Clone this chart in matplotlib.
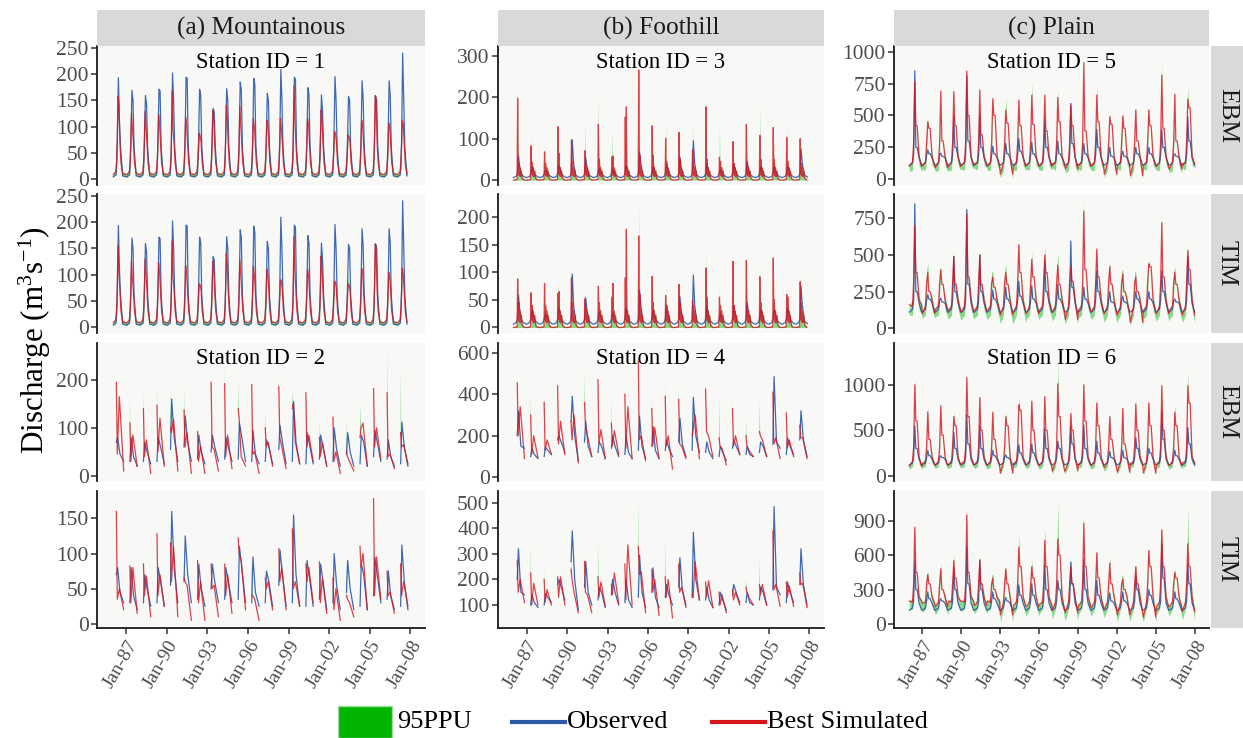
import numpy as np
import matplotlib
matplotlib.use("Agg")
import matplotlib.pyplot as plt
from matplotlib.patches import Rectangle
from matplotlib.lines import Line2D

plt.rcParams['font.family'] = ['Liberation Serif', 'DejaVu Serif']
plt.rcParams['mathtext.fontset'] = 'custom'
plt.rcParams['mathtext.rm'] = 'Liberation Serif'
plt.rcParams['mathtext.it'] = 'Liberation Serif:italic'

# ---------------------------------------------------------------- data
YEARS = list(range(1986, 2008))
XTICKS = [1987, 1990, 1993, 1996, 1999, 2002, 2005, 2008]
XTICK_LABELS = ["Jan-87", "Jan-90", "Jan-93", "Jan-96", "Jan-99", "Jan-02", "Jan-05", "Jan-08"]
COLUMN_TITLES = ["(a) Mountainous", "(b) Foothill", "(c) Plain"]
ROW_MODELS = ["EBM", "TIM", "EBM", "TIM"]

# Station 1 (mountainous, continuous record): yearly flood peak and shoulder
s1_obs_pk = [193, 169, 159, 171, 202, 194, 171, 134, 172, 185, 192, 163, 209, 194, 174, 160, 195, 157, 187, 158, 187, 240]
s1_obs_sh = [110, 150, 143, 168, 150, 192, 160, 128, 150, 170, 180, 150, 150, 190, 160, 130, 150, 150, 155, 150, 160, 150]
s1e_sim_pk = [157, 125, 129, 122, 168, 117, 87, 131, 140, 139, 115, 112, 115, 177, 115, 131, 90, 83, 112, 159, 106, 112]
s1e_sim_sh = [140, 95, 100, 105, 90, 100, 82, 115, 120, 100, 100, 105, 95, 110, 105, 115, 85, 80, 100, 150, 100, 105]
s1e_ppu_pk = [165, 132, 136, 130, 172, 124, 98, 136, 146, 145, 122, 118, 122, 182, 122, 136, 96, 100, 118, 162, 112, 118]
s1t_sim_pk = [155, 126, 130, 122, 164, 117, 82, 125, 140, 128, 116, 110, 90, 173, 110, 135, 87, 82, 111, 158, 104, 112]
s1t_sim_sh = [100, 90, 100, 105, 95, 100, 80, 110, 120, 100, 100, 100, 88, 105, 100, 110, 85, 80, 105, 150, 95, 100]
s1t_ppu_pk = [160, 132, 136, 128, 168, 124, 90, 130, 146, 134, 122, 116, 98, 178, 116, 140, 94, 96, 116, 162, 110, 118]

# Station 3 (foothill): observed bump, simulated spikes
s3_obs_pk = [59, 32, 24, 35, 97, 54, 28, 26, 35, 68, 32, 40, 56, 95, 40, 25, 40, 45, 32, 32, 35, 75]
s3_obs_post = [30, 20, 20, 25, 40, 30, 20, 18, 25, 40, 22, 25, 30, 40, 25, 18, 25, 25, 22, 22, 25, 40]
s3e_sim_pk = [198, 83, 68, 129, 97, 71, 135, 56, 152, 266, 131, 101, 115, 73, 177, 55, 93, 135, 108, 127, 103, 100]
s3e_sim_sec = [40, 42, 40, 65, 45, 35, 50, 58, 177, 60, 60, 45, 50, 50, 50, 45, 40, 40, 50, 50, 45, 40]
s3e_ppu_pk = [205, 105, 88, 142, 100, 140, 200, 115, 160, 275, 145, 133, 135, 135, 180, 128, 95, 140, 183, 130, 132, 105]
s3t_sim_pk = [88, 63, 80, 62, 90, 52, 75, 55, 90, 166, 93, 58, 78, 50, 108, 55, 120, 122, 92, 126, 60, 83]
s3t_sim_sec = [45, 40, 40, 65, 45, 35, 45, 80, 178, 60, 45, 40, 45, 40, 55, 40, 40, 40, 45, 50, 55, 45]
s3t_ppu_pk = [105, 70, 85, 85, 95, 60, 80, 60, 95, 225, 95, 78, 85, 55, 135, 70, 122, 128, 113, 130, 80, 95]

# Station 5 (plain)
s5_obs_pk = [850, 230, 205, 490, 810, 500, 260, 280, 320, 290, 465, 300, 595, 280, 392, 250, 220, 250, 250, 390, 200, 490]
s5_obs_post = [250, 200, 180, 250, 300, 250, 200, 200, 220, 200, 250, 200, 280, 200, 250, 180, 180, 200, 200, 250, 180, 300]
s5e_sim_pk = [765, 452, 692, 687, 849, 700, 632, 543, 621, 660, 660, 642, 582, 914, 660, 490, 496, 543, 543, 817, 666, 630]
s5e_sim_post = [420, 400, 300, 420, 500, 350, 500, 440, 420, 430, 380, 450, 420, 380, 450, 430, 400, 300, 420, 400, 300, 560]
s5e_sim_low = [100, 110, 90, 100, 110, 120, 100, 40, 100, 110, 100, 120, 80, 110, 100, 40, 110, 30, 110, 100, 80, 120]
s5e_ppu_pk = [780, 470, 700, 700, 860, 720, 650, 640, 640, 760, 680, 700, 600, 940, 740, 520, 520, 560, 560, 900, 700, 720]
s5e_ppu_low = [60, 80, 60, 70, 80, 90, 70, 10, 70, 80, 70, 90, 50, 80, 70, 15, 80, 5, 80, 70, 50, 90]
s5t_sim_pk = [700, 380, 400, 490, 780, 500, 350, 380, 570, 470, 500, 430, 420, 800, 540, 420, 370, 350, 440, 720, 380, 530]
s5t_sim_post = [380, 250, 300, 300, 350, 300, 280, 300, 380, 350, 380, 300, 320, 400, 350, 300, 250, 250, 420, 350, 300, 400]
s5t_sim_low = [160, 100, 130, 120, 110, 120, 120, 90, 110, 100, 120, 110, 60, 120, 110, 100, 90, 40, 120, 100, 120, 90]
s5t_ppu_pk = [720, 450, 420, 520, 800, 530, 380, 440, 600, 520, 560, 520, 450, 860, 560, 450, 400, 380, 470, 760, 420, 570]
s5t_ppu_low = [90, 70, 80, 60, 60, 70, 60, 30, 40, 60, 70, 50, 30, 70, 60, 40, 50, 20, 60, 50, 60, 40]

# Station 6 (plain)
s6_obs_pk = [550, 280, 220, 480, 670, 550, 280, 230, 340, 350, 520, 380, 540, 560, 380, 270, 280, 420, 300, 700, 280, 530]
s6_obs_post = [300, 220, 200, 300, 350, 300, 220, 200, 250, 250, 300, 300, 350, 300, 250, 200, 200, 300, 250, 400, 220, 350]
s6e_sim_pk = [1000, 703, 770, 650, 1080, 860, 700, 650, 780, 820, 870, 1010, 680, 1000, 800, 650, 740, 790, 800, 990, 700, 990]
s6e_sim_post = [600, 400, 450, 550, 650, 500, 400, 550, 720, 500, 500, 650, 500, 600, 550, 400, 350, 500, 550, 500, 550, 800]
s6e_sim_low = [100, 130, 110, 120, 130, 120, 110, 30, 130, 120, 110, 50, 60, 120, 110, 90, 40, 130, 30, 120, 110, 140]
s6e_ppu_pk = [1080, 750, 800, 700, 1100, 900, 720, 700, 860, 850, 920, 1250, 760, 1050, 840, 680, 760, 820, 840, 1050, 780, 1130]
s6e_ppu_low = [70, 90, 80, 80, 90, 80, 70, 10, 90, 80, 70, 20, 30, 80, 70, 50, 15, 90, 10, 80, 70, 100]
s6t_sim_pk = [843, 430, 480, 552, 950, 560, 400, 480, 670, 500, 730, 740, 500, 880, 620, 530, 390, 500, 640, 820, 450, 700]
s6t_sim_post = [450, 350, 300, 400, 450, 350, 300, 350, 500, 400, 500, 600, 350, 500, 400, 350, 300, 350, 500, 500, 400, 500]
s6t_sim_low = [200, 180, 150, 200, 200, 160, 200, 80, 160, 150, 170, 120, 100, 160, 140, 130, 80, 100, 60, 150, 150, 110]
s6t_ppu_pk = [880, 460, 520, 600, 980, 600, 430, 500, 780, 560, 830, 1050, 560, 900, 650, 580, 420, 520, 680, 850, 480, 1020]
s6t_ppu_low = [120, 100, 80, 120, 110, 90, 110, 20, 80, 70, 90, 40, 30, 80, 70, 60, 20, 40, 20, 80, 70, 40]

# Station 2 (mountainous, seasonal record): per season (start, peak, mid, end) / (peak, trough, second, end)
s2_obs = [(70, 80, 45, 30), (30, 80, 40, 20), (30, 70, 50, 25), (30, 80, 60, 25), (55, 160, 80, 30),
          (60, 125, 70, 30), (35, 85, 50, 25), (50, 85, 60, 30), (35, 80, 60, 30), (35, 110, 80, 30),
          (30, 95, 45, 25), (30, 75, 60, 25), (55, 105, 70, 25), (30, 155, 70, 25), (25, 90, 65, 25),
          (35, 85, 60, 20), (30, 100, 55, 20), (45, 90, 50, 20), (25, 85, 70, 20), (40, 95, 70, 30),
          (35, 75, 40, 20), (25, 112, 60, 20)]
s2e_sim = [(195, 45, 165, 10), (110, 30, 85, 20), (140, 40, 75, 5), (147, 50, 120, 20), (100, 90, 118, 10),
           (137, 60, 90, 5), (92, 30, 62, 5), (195, 60, 55, 10), (192, 40, 85, 15), (140, 120, 40, 20),
           (190, 45, 50, 5), (100, 60, 70, 20), (186, 80, 60, 15), (140, 150, 70, 25), (173, 60, 85, 30),
           (80, 40, 70, 20), (122, 30, 50, 5), (50, 40, 30, 10), (80, 100, 110, 20), (182, 60, 100, 35),
           (173, 40, 45, 15), (90, 60, 65, 25)]
s2e_ppu_pk = [200, 165, 178, 183, 180, 190, 100, 200, 230, 195, 200, 135, 205, 175, 180, 120, 130, 120, 150, 185, 265, 225]
s2t_sim = [(160, 35, 50, 20), (82, 30, 80, 15), (85, 40, 68, 10), (128, 40, 70, 25), (115, 60, 110, 10),
           (65, 60, 55, 5), (90, 30, 60, 5), (85, 50, 55, 10), (85, 40, 70, 15), (122, 100, 90, 20),
           (40, 40, 35, 5), (65, 50, 60, 20), (107, 60, 80, 20), (135, 50, 60, 25), (85, 60, 80, 30),
           (88, 30, 65, 15), (65, 20, 50, 5), (40, 35, 30, 10), (110, 80, 100, 20), (178, 40, 95, 35),
           (75, 40, 45, 15), (85, 40, 60, 25)]
s2t_ppu_pk = [165, 88, 90, 132, 120, 95, 95, 90, 90, 125, 95, 70, 110, 140, 90, 92, 70, 90, 112, 180, 85, 90]

# Station 4 (foothill, seasonal record)
s4_obs = [(200, 320, 150, 140), (100, 140, 110, 90), (100, 145, 130, 110), (180, 200, 170, 120), (270, 390, 200, 80),
          (170, 270, 150, 100), (120, 170, 150, 90), (140, 200, 150, 100), (110, 200, 120, 90), (130, 295, 150, 90),
          (150, 245, 130, 90), (130, 180, 140, 100), (170, 285, 160, 100), (130, 385, 200, 120), (120, 170, 120, 90),
          (100, 150, 120, 80), (140, 180, 150, 110), (110, 150, 110, 100), (120, 170, 150, 100), (160, 485, 170, 140),
          (110, 190, 150, 110), (180, 320, 180, 100)]
s4e_sim = [(455, 200, 340, 90), (300, 110, 200, 95), (360, 130, 180, 110), (440, 160, 270, 110), (270, 180, 300, 70),
           (360, 250, 200, 100), (470, 160, 230, 90), (260, 150, 225, 110), (400, 140, 340, 90), (560, 180, 200, 80),
           (330, 150, 240, 90), (390, 150, 200, 40), (375, 160, 150, 90), (200, 230, 300, 90), (425, 220, 200, 100),
           (190, 150, 140, 60), (330, 150, 200, 110), (200, 150, 130, 100), (220, 200, 180, 100), (410, 160, 190, 90),
           (310, 140, 180, 100), (250, 190, 190, 90)]
s4e_ppu_pk = [470, 390, 400, 450, 300, 510, 480, 380, 410, 570, 390, 460, 440, 310, 470, 390, 370, 280, 370, 420, 350, 260]
s4t_sim = [(275, 150, 200, 110), (225, 100, 185, 100), (200, 110, 160, 100), (210, 130, 210, 100), (240, 200, 150, 70),
           (270, 150, 140, 70), (210, 130, 190, 95), (180, 140, 225, 105), (260, 120, 335, 100), (330, 220, 230, 70),
           (240, 150, 200, 60), (210, 130, 200, 50), (260, 150, 170, 90), (140, 130, 270, 120), (190, 130, 195, 90),
           (150, 100, 140, 70), (160, 120, 150, 100), (170, 150, 130, 100), (180, 140, 180, 100), (390, 160, 180, 95),
           (190, 130, 175, 95), (225, 180, 185, 90)]
s4t_ppu_pk = [340, 340, 240, 230, 280, 290, 350, 210, 265, 510, 240, 360, 290, 300, 200, 150, 190, 200, 280, 400, 190, 235]

# ---------------------------------------------------------------- series builders
PH_MTN_OBS = [0.05, 0.26, 0.35, 0.43, 0.51, 0.59, 0.74]
PH_MTN_SIM = [0.05, 0.24, 0.32, 0.40, 0.47, 0.54, 0.62, 0.75]
PH_FOOT_OBS = [0.0, 0.20, 0.29, 0.37, 0.47, 0.62, 0.85]
PH_FOOT_SIM = [0.0, 0.27, 0.31, 0.35, 0.39, 0.43, 0.47, 0.52, 0.57, 0.66, 0.80]
PH_PLAIN = [0.03, 0.27, 0.36, 0.45, 0.53, 0.63, 0.78, 0.98]
PH_SEASON_OBS = [0.28, 0.37, 0.55, 0.82]
PH_SEASON_SIM = [0.28, 0.35, 0.50, 0.82]


def series(phases, rows, gaps=False):
    t, v = [], []
    for yr, row in zip(YEARS, rows):
        for p, val in zip(phases, row):
            t.append(yr + p)
            v.append(val)
        if gaps:
            t.append(yr + 0.9)
            v.append(np.nan)
    return np.array(t), np.array(v, dtype=float)


def mountain(obs_pk, obs_sh, sim_pk, sim_sh, ppu_pk):
    obs = series(PH_MTN_OBS, [(4, 8, 70, a, b, 60, 6) for a, b in zip(obs_pk, obs_sh)])
    sim = series(PH_MTN_SIM, [(8, 14, 40, a, b, 70, 30, 10) for a, b in zip(sim_pk, sim_sh)])
    hi = series(PH_MTN_SIM, [(10, 20, 65, c, b, 78, 42, 14) for c, b in zip(ppu_pk, sim_sh)])[1]
    lo = series(PH_MTN_SIM, [(3, 8, 22, a, b, 58, 20, 5) for a, b in zip(sim_pk, sim_sh)])[1]
    return obs, sim, (lo, hi)


def foothill(obs_pk, obs_post, sim_pk, sim_sec, ppu_pk):
    obs = series(PH_FOOT_OBS, [(6, 9, 16, a, b, 12, 7) for a, b in zip(obs_pk, obs_post)])
    sim = series(PH_FOOT_SIM, [(0, 1, a, 14, b, 10, 30, 8, 22, 3, 0) for a, b in zip(sim_pk, sim_sec)])
    hi = series(PH_FOOT_SIM, [(2, 4, c, 20, b, 16, 38, 14, 28, 8, 2) for c, b in zip(ppu_pk, sim_sec)])[1]
    lo = series(PH_FOOT_SIM, [(0,) * 11 for _ in YEARS])[1]
    return obs, sim, (lo, hi)


def plain(obs_pk, obs_post, obs_base, sim_pk, sim_post, sim_low, sim_pre, ppu_pk, ppu_low):
    obs = series(PH_PLAIN, [(obs_base, obs_base + 20, obs_base + 80, a, b, b, obs_base + 60, obs_base)
                            for a, b in zip(obs_pk, obs_post)])
    sim = series(PH_PLAIN, [(lw, sim_pre - 40, sim_pre + 120, a, b, b, sim_pre, lw)
                            for a, b, lw in zip(sim_pk, sim_post, sim_low)])
    hi = series(PH_PLAIN, [(lw, sim_pre, sim_pre + 200, c, b, b, sim_pre + 30, lw)
                           for c, b, lw in zip(ppu_pk, sim_post, sim_low)])[1]
    lo = series(PH_PLAIN, [(g, sim_pre - 100, sim_pre + 40, a, b, b, sim_pre - 60, g)
                           for a, b, g in zip(sim_pk, sim_post, ppu_low)])[1]
    return obs, sim, (lo, hi)


def seasonal(obs_rows, sim_rows, ppu_pk):
    obs = series(PH_SEASON_OBS, obs_rows, gaps=True)
    sim = series(PH_SEASON_SIM, sim_rows, gaps=True)
    hi = series(PH_SEASON_SIM, [(c,) + tuple(r[1:]) for c, r in zip(ppu_pk, sim_rows)], gaps=True)[1]
    lo = sim[1]
    return obs, sim, (lo, hi)


PANELS = {
    (0, 0): dict(data=mountain(s1_obs_pk, s1_obs_sh, s1e_sim_pk, s1e_sim_sh, s1e_ppu_pk),
                 ylim=(-11.5, 253.5), ticks=[0, 50, 100, 150, 200, 250], label="Station ID = 1"),
    (1, 0): dict(data=mountain(s1_obs_pk, s1_obs_sh, s1t_sim_pk, s1t_sim_sh, s1t_ppu_pk),
                 ylim=(-11, 253), ticks=[0, 50, 100, 150, 200, 250]),
    (2, 0): dict(data=seasonal(s2_obs, s2e_sim, s2e_ppu_pk),
                 ylim=(-11, 277), ticks=[0, 100, 200], label="Station ID = 2"),
    (3, 0): dict(data=seasonal(s2_obs, s2t_sim, s2t_ppu_pk),
                 ylim=(-6, 189), ticks=[0, 50, 100, 150]),
    (0, 1): dict(data=foothill(s3_obs_pk, s3_obs_post, s3e_sim_pk, s3e_sim_sec, s3e_ppu_pk),
                 ylim=(-12, 324), ticks=[0, 100, 200, 300], label="Station ID = 3"),
    (1, 1): dict(data=foothill(s3_obs_pk, s3_obs_post, s3t_sim_pk, s3t_sim_sec, s3t_ppu_pk),
                 ylim=(-10, 242), ticks=[0, 50, 100, 150, 200]),
    (2, 1): dict(data=seasonal(s4_obs, s4e_sim, s4e_ppu_pk),
                 ylim=(-18, 647), ticks=[0, 200, 400, 600], label="Station ID = 4"),
    (3, 1): dict(data=seasonal(s4_obs, s4t_sim, s4t_ppu_pk),
                 ylim=(10, 546), ticks=[100, 200, 300, 400, 500]),
    (0, 2): dict(data=plain(s5_obs_pk, s5_obs_post, 110, s5e_sim_pk, s5e_sim_post, s5e_sim_low, 170,
                            s5e_ppu_pk, s5e_ppu_low),
                 ylim=(-45, 1045), ticks=[0, 250, 500, 750, 1000], label="Station ID = 5"),
    (1, 2): dict(data=plain(s5_obs_pk, s5_obs_post, 110, s5t_sim_pk, s5t_sim_post, s5t_sim_low, 190,
                            s5t_ppu_pk, s5t_ppu_low),
                 ylim=(-32, 916), ticks=[0, 250, 500, 750]),
    (2, 2): dict(data=plain(s6_obs_pk, s6_obs_post, 120, s6e_sim_pk, s6e_sim_post, s6e_sim_low, 200,
                            s6e_ppu_pk, s6e_ppu_low),
                 ylim=(-58, 1460), ticks=[0, 500, 1000], label="Station ID = 6"),
    (3, 2): dict(data=plain(s6_obs_pk, s6_obs_post, 120, s6t_sim_pk, s6t_sim_post, s6t_sim_low, 230,
                            s6t_ppu_pk, s6t_ppu_low),
                 ylim=(-35, 1159), ticks=[0, 300, 600, 900]),
}

# ---------------------------------------------------------------- layout (pixels)
W, H = 1243, 738
COL_X = [(97, 425), (498, 824), (894, 1209)]
ROW_Y = [(46, 185), (194, 333), (343, 481), (491, 628)]
STRIP_Y = (10, 46)
RSTRIP_X = (1211, 1243)

BAND_C = "#00b400"
OBS_C = "#2c5aa8"
SIM_C = "#d7141e"
PANEL_BG = "#f8f8f6"
STRIP_BG = "#d9d9d9"
TICK_C = "#4d4d4d"


def fx(x):
    return x / W


def fy(y):
    return 1 - y / H


fig = plt.figure(figsize=(W / 100, H / 100), dpi=100)
fig.patch.set_facecolor("white")

for (r, c), cfg in PANELS.items():
    x0, x1 = COL_X[c]
    y0, y1 = ROW_Y[r]
    ax = fig.add_axes([fx(x0), fy(y1), (x1 - x0) / W, (y1 - y0) / H])
    ax.set_facecolor(PANEL_BG)
    (to, vo), (ts, vs), (lo, hi) = cfg["data"]
    ax.fill_between(ts, lo, hi, color=BAND_C, alpha=0.45, lw=0, zorder=1)
    ax.plot(to, vo, color=OBS_C, lw=0.9, alpha=0.9, zorder=2)
    ax.plot(ts, vs, color=SIM_C, lw=0.9, alpha=0.8, zorder=3)
    ax.set_xlim(1984.85, 2009.08)
    ax.set_ylim(*cfg["ylim"])
    ax.set_yticks(cfg["ticks"])
    ax.set_xticks(XTICKS)
    for side in ("top", "right"):
        ax.spines[side].set_visible(False)
    ax.spines["left"].set_linewidth(1.3)
    ax.spines["left"].set_color("#1a1a1a")
    ax.tick_params(axis="y", length=4, width=1.1, color="#333333", labelsize=15.5,
                   labelcolor=TICK_C, pad=2)
    if r == 3:
        ax.spines["bottom"].set_linewidth(1.3)
        ax.spines["bottom"].set_color("#1a1a1a")
        ax.set_xticklabels(XTICK_LABELS, rotation=60, ha="right", rotation_mode="anchor",
                           fontsize=14, color=TICK_C)
        ax.tick_params(axis="x", length=4, width=1.1, color="#333333", pad=3)
    else:
        ax.spines["bottom"].set_visible(False)
        ax.tick_params(axis="x", length=0, labelbottom=False)
    if "label" in cfg:
        ax.text(0.5, 1 - 16 / (y1 - y0), cfg["label"], transform=ax.transAxes,
                ha="center", va="center", fontsize=16.3, color="black", zorder=5)

# column strips
for c, title in enumerate(COLUMN_TITLES):
    x0, x1 = COL_X[c]
    fig.add_artist(Rectangle((fx(x0), fy(STRIP_Y[1])), (x1 - x0) / W, (STRIP_Y[1] - STRIP_Y[0]) / H,
                             transform=fig.transFigure, facecolor=STRIP_BG, edgecolor="none"))
    fig.text(fx((x0 + x1) / 2), fy(sum(STRIP_Y) / 2), title, ha="center", va="center",
             fontsize=18.3, color="#1a1a1a")

# model strips on the right
for r, model in enumerate(ROW_MODELS):
    y0, y1 = ROW_Y[r]
    fig.add_artist(Rectangle((fx(RSTRIP_X[0]), fy(y1)), (RSTRIP_X[1] - RSTRIP_X[0]) / W, (y1 - y0) / H,
                             transform=fig.transFigure, facecolor=STRIP_BG, edgecolor="none"))
    fig.text(fx(sum(RSTRIP_X) / 2), fy((y0 + y1) / 2), model, ha="center", va="center",
             rotation=270, fontsize=18.3, color="#1a1a1a")

# y axis title
fig.text(fx(35), fy(340), r"Discharge (m$^{3}$s$^{-1}$)", rotation=90, ha="center", va="center",
         fontsize=22.4, color="black")

# legend
fig.add_artist(Rectangle((fx(338), fy(738)), 54 / W, 32 / H, transform=fig.transFigure,
                         facecolor=BAND_C, edgecolor="#9fdc9f", lw=1))
fig.text(fx(397), fy(722), "95PPU", ha="left", va="center", fontsize=19)
fig.add_artist(Line2D([fx(512), fx(565)], [fy(722), fy(722)], transform=fig.transFigure,
                      color=OBS_C, lw=3))
fig.text(fx(567), fy(722), "Observed", ha="left", va="center", fontsize=19)
fig.add_artist(Line2D([fx(712), fx(765)], [fy(722), fy(722)], transform=fig.transFigure,
                      color=SIM_C, lw=3))
fig.text(fx(767), fy(722), "Best Simulated", ha="left", va="center", fontsize=19)

fig.savefig("out.png", dpi=100)
